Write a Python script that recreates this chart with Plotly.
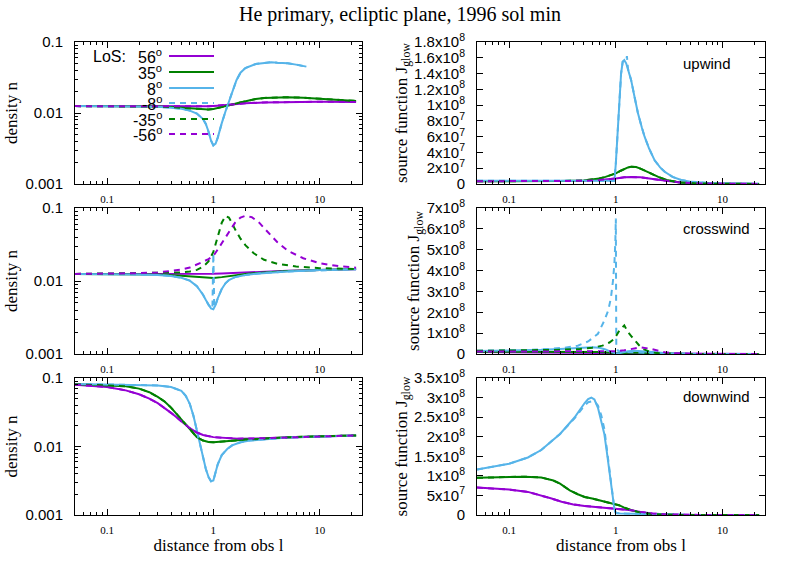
import math
import plotly.graph_objects as go

# colours of the line-of-sight curves
PURPLE = '#9400d3'
GREEN = '#008000'
BLUE = '#56b4e9'

# ---------------- upwind ----------------
up_n_x56 = [0.05, 0.1, 0.2, 0.3, 0.5, 0.7, 0.9, 1.1, 1.4, 2, 3, 5, 10, 22]
up_n_56 = [0.0125, 0.0125, 0.0125, 0.0125, 0.0124, 0.0123, 0.0124, 0.0127, 0.0132, 0.0137, 0.0141, 0.0143, 0.0144, 0.0143]
up_n_x35 = [0.05, 0.1, 0.2, 0.3, 0.4, 0.5, 0.6, 0.7, 0.8, 0.9, 1.0, 1.1, 1.25, 1.4, 1.7, 2, 2.5, 3, 4, 5, 7, 10, 15, 22]
up_n_35 = [0.0125, 0.0125, 0.0124, 0.0123, 0.0121, 0.0118, 0.0115, 0.0113, 0.0112, 0.0112, 0.0114, 0.0117, 0.0122,
           0.0128, 0.0138, 0.0147, 0.0157, 0.0163, 0.0167, 0.0167, 0.0164, 0.016, 0.0154, 0.0148]
up_n_x8 = [0.05, 0.1, 0.2, 0.3, 0.4, 0.5, 0.6, 0.7, 0.8, 0.85, 0.9, 0.95, 1.0, 1.05, 1.1, 1.15, 1.2, 1.3, 1.4, 1.5,
           1.65, 1.8, 2, 2.5, 3, 3.5, 4, 5, 6, 7.5]
up_n_8 = [0.0125, 0.0125, 0.0124, 0.0122, 0.0119, 0.0115, 0.0108, 0.0098, 0.0082, 0.0070, 0.0055, 0.0041, 0.0035,
          0.0037, 0.0045, 0.0058, 0.0072, 0.0105, 0.0145, 0.019, 0.029, 0.037, 0.043, 0.049, 0.051, 0.052, 0.051,
          0.050, 0.048, 0.045]

up_j_x56 = [0.05, 0.1, 0.2, 0.3, 0.5, 0.7, 0.9, 1.0, 1.2, 1.4, 1.7, 2, 2.5, 3, 4, 6, 10, 22]
up_j_56 = [3.5e6, 3.5e6, 3.5e6, 3.6e6, 4e6, 5e6, 6e6, 7e6, 8.5e6, 9e6, 8.5e6, 7.5e6, 5.5e6, 4e6, 2e6, 7e5, 2e5, 1e5]
up_j_x35 = [0.05, 0.1, 0.2, 0.3, 0.5, 0.6, 0.7, 0.8, 0.9, 1.0, 1.1, 1.2, 1.3, 1.4, 1.55, 1.7, 2, 2.5, 3, 4, 6, 10, 22]
up_j_35 = [3.5e6, 3.5e6, 3.6e6, 3.8e6, 4.5e6, 5.5e6, 7e6, 9e6, 1.1e7, 1.35e7, 1.65e7, 1.9e7, 2.1e7, 2.2e7, 2.15e7,
           1.95e7, 1.5e7, 9e6, 5e6, 2e6, 6e5, 2e5, 1e5]
up_j_x8 = [0.05, 0.1, 0.2, 0.3, 0.5, 0.7, 0.9, 0.97, 1.0, 1.04, 1.08, 1.12, 1.16, 1.2, 1.25, 1.3, 1.39, 1.5, 1.61,
           1.75, 1.86, 2.05, 2.31, 2.6, 2.87, 3.4, 4.1, 5, 5.9, 8, 12, 22]
up_j_8 = [4e6, 4e6, 4e6, 4e6, 4e6, 4e6, 4e6, 4e6, 2.6e7, 7e7, 1.1e8, 1.4e8, 1.55e8, 1.57e8, 1.53e8, 1.46e8, 1.32e8,
          1.1e8, 9e7, 7.2e7, 6e7, 4.5e7, 3e7, 2.1e7, 1.55e7, 9e6, 5e6, 3e6, 2e6, 1e6, 5e5, 2e5]
up_j_x8d = [0.05, 0.1, 0.2, 0.3, 0.5, 0.7, 0.9, 0.97, 1.0, 1.04, 1.08, 1.12, 1.16, 1.2, 1.25, 1.27, 1.3, 1.39, 1.5,
            1.61, 1.75, 1.86, 2.05, 2.31, 2.6, 2.87, 3.4, 4.1, 5, 5.9, 8, 12, 22]
up_j_8d = [4e6, 4e6, 4e6, 4e6, 4e6, 4e6, 4e6, 4e6, 2.6e7, 7e7, 1.1e8, 1.4e8, 1.55e8, 1.56e8, 1.55e8, 1.62e8, 1.46e8,
           1.32e8, 1.1e8, 9e7, 7.2e7, 6e7, 4.5e7, 3e7, 2.1e7, 1.55e7, 9e6, 5e6, 3e6, 2e6, 1e6, 5e5, 2e5]

# ---------------- crosswind ----------------
cr_n_x56 = [0.05, 0.1, 0.2, 0.3, 0.5, 0.7, 0.9, 1.0, 1.2, 1.5, 2, 3, 5, 10, 22]
cr_n_56 = [0.0125, 0.0125, 0.0125, 0.0125, 0.0124, 0.0124, 0.0125, 0.0126, 0.0127, 0.0129, 0.0131, 0.0134, 0.0138,
           0.0142, 0.0145]
cr_n_x35 = [0.05, 0.1, 0.2, 0.3, 0.5, 0.7, 0.9, 1.0, 1.2, 1.5, 2, 3, 5, 10, 22]
cr_n_35 = [0.0125, 0.0125, 0.0124, 0.0123, 0.0118, 0.0113, 0.0110, 0.0110, 0.0113, 0.0119, 0.0125, 0.0131, 0.0137,
           0.0142, 0.0146]
cr_n_x8 = [0.05, 0.1, 0.2, 0.3, 0.4, 0.5, 0.6, 0.7, 0.8, 0.85, 0.9, 0.95, 1.0, 1.05, 1.1, 1.2, 1.3, 1.4, 1.6, 2, 2.5,
           3, 5, 10, 22]
cr_n_8 = [0.0125, 0.0125, 0.0123, 0.0121, 0.0117, 0.0111, 0.0101, 0.0085, 0.0065, 0.0055, 0.0047, 0.0042, 0.0041,
          0.0047, 0.0058, 0.0078, 0.0093, 0.0103, 0.0113, 0.0121, 0.0126, 0.0129, 0.0135, 0.0141, 0.0145]
cr_n_x8d = [0.05, 0.1, 0.2, 0.3, 0.4, 0.5, 0.6, 0.7, 0.8, 0.85, 0.9, 0.95, 0.98, 1.0, 1.02, 1.05, 1.1, 1.2, 1.3, 1.4,
            1.6, 2, 2.5, 3, 5, 10, 22]
cr_n_8d = [0.0125, 0.0125, 0.0123, 0.0121, 0.0117, 0.0111, 0.0101, 0.0085, 0.0065, 0.0055, 0.0047, 0.0043, 0.0042,
           0.024, 0.0044, 0.0047, 0.0058, 0.0078, 0.0093, 0.0103, 0.0113, 0.0121, 0.0126, 0.0129, 0.0135, 0.0141,
           0.0145]
cr_n_x35d = [0.05, 0.1, 0.2, 0.3, 0.4, 0.5, 0.6, 0.7, 0.8, 0.9, 1.0, 1.1, 1.2, 1.3, 1.4, 1.5, 1.6, 1.8, 2.0, 2.4, 3,
             4, 6, 10, 22]
cr_n_35d = [0.0125, 0.0126, 0.0127, 0.0128, 0.0129, 0.0131, 0.0135, 0.0142, 0.0157, 0.0185, 0.025, 0.041, 0.063,
            0.078, 0.074, 0.062, 0.051, 0.038, 0.031, 0.024, 0.0195, 0.0172, 0.0158, 0.015, 0.0146]
cr_n_x56d = [0.05, 0.1, 0.2, 0.3, 0.4, 0.5, 0.6, 0.7, 0.8, 0.9, 1.0, 1.1, 1.25, 1.4, 1.6, 1.8, 2.0, 2.3, 2.7, 3.2, 4,
             5, 7, 10, 15, 22]
cr_n_56d = [0.0125, 0.0126, 0.0128, 0.0131, 0.0136, 0.0143, 0.0153, 0.0167, 0.0183, 0.02, 0.022, 0.027, 0.036, 0.048,
            0.063, 0.074, 0.078, 0.075, 0.063, 0.048, 0.034, 0.026, 0.0205, 0.0175, 0.016, 0.0152]

cr_j_x56 = [0.05, 0.1, 0.2, 0.3, 0.5, 0.7, 1.0, 1.5, 2, 3, 5, 10, 22]
cr_j_56 = [9e6, 8.5e6, 8e6, 7.5e6, 6.5e6, 5e6, 3e6, 3e6, 2.5e6, 1.5e6, 5e5, 1e5, 0]
cr_j_x35 = [0.05, 0.1, 0.2, 0.3, 0.5, 0.7, 0.9, 1.0, 1.2, 1.5, 2, 3, 5, 10, 22]
cr_j_35 = [1.1e7, 1.1e7, 1.1e7, 1.1e7, 1.05e7, 9e6, 6e6, 4e6, 5e6, 7e6, 5e6, 2e6, 5e5, 1e5, 0]
cr_j_x8 = [0.05, 0.1, 0.2, 0.3, 0.4, 0.5, 0.6, 0.7, 0.8, 0.9, 1.0, 1.1, 1.3, 1.5, 1.8, 2.2, 3, 4, 6, 10, 22]
cr_j_8 = [1.4e7, 1.6e7, 2e7, 2.4e7, 2.8e7, 3.1e7, 3.2e7, 3e7, 2.2e7, 1e7, 3e6, 5e6, 1.3e7, 1.6e7, 1.4e7, 9e6, 3e6,
          1e6, 3e5, 1e5, 0]
cr_j_x8d = [0.05, 0.1, 0.16, 0.25, 0.33, 0.44, 0.55, 0.68, 0.78, 0.85, 0.9, 0.94, 0.97, 0.99, 1.0, 1.01, 1.05, 1.2,
            1.5, 2, 3, 5, 10, 22]
cr_j_8d = [1.6e7, 1.8e7, 2e7, 2.5e7, 3e7, 4e7, 6e7, 9.7e7, 1.6e8, 2.1e8, 2.7e8, 3.5e8, 4.35e8, 5.4e8, 6.5e8, 3e7,
           1.5e7, 1e7, 8e6, 4e6, 1.5e6, 5e5, 1e5, 0]
cr_j_x35d = [0.05, 0.1, 0.2, 0.3, 0.46, 0.6, 0.75, 0.87, 0.97, 1.08, 1.2, 1.3, 1.4, 1.5, 1.65, 1.8, 2.15, 2.6, 3.2,
             4.5, 7, 12, 22]
cr_j_35d = [1.5e7, 1.6e7, 1.8e7, 2e7, 2.4e7, 3e7, 4e7, 5.5e7, 7.3e7, 1.13e8, 1.37e8, 1.05e8, 8.5e7, 6.5e7, 4.2e7,
            2.4e7, 8e6, 3e6, 1e6, 3e5, 1e5, 0, 0]
cr_j_x56d = [0.05, 0.1, 0.2, 0.3, 0.5, 0.7, 0.97, 1.2, 1.4, 1.73, 2.15, 2.5, 2.87, 3.5, 4.1, 6, 10, 22]
cr_j_56d = [1.2e7, 1.2e7, 1.15e7, 1.1e7, 1.1e7, 1.2e7, 1.3e7, 1.8e7, 2.4e7, 3.2e7, 2.4e7, 1.4e7, 8e6, 4e6, 2e6, 5e5,
            1e5, 0]

# ---------------- downwind ----------------
dn_n_x56 = [0.05, 0.1, 0.15, 0.2, 0.25, 0.3, 0.4, 0.5, 0.55, 0.6, 0.7, 0.8, 1.0, 1.3, 1.7, 2.5, 3.5, 5, 10, 22]
dn_n_56 = [0.08, 0.074, 0.066, 0.058, 0.05, 0.043, 0.031, 0.023, 0.0205, 0.0185, 0.016, 0.0147, 0.0137, 0.0132,
           0.013, 0.0131, 0.0133, 0.0136, 0.0141, 0.0145]
dn_n_x35 = [0.05, 0.1, 0.15, 0.2, 0.25, 0.3, 0.35, 0.4, 0.5, 0.55, 0.6, 0.7, 0.8, 0.9, 1.0, 1.2, 1.5, 2, 3, 5, 10, 22]
dn_n_35 = [0.081, 0.079, 0.076, 0.07, 0.062, 0.053, 0.045, 0.037, 0.025, 0.021, 0.0175, 0.0137, 0.0122, 0.0116,
           0.0115, 0.0117, 0.0121, 0.0126, 0.0131, 0.0136, 0.0141, 0.0145]
dn_n_x8 = [0.05, 0.1, 0.2, 0.3, 0.4, 0.45, 0.5, 0.55, 0.6, 0.65, 0.7, 0.75, 0.8, 0.85, 0.9, 0.95, 1.0, 1.05, 1.1,
           1.2, 1.35, 1.5, 1.8, 2.2, 3, 5, 10, 22]
dn_n_8 = [0.082, 0.081, 0.08, 0.078, 0.074, 0.07, 0.065, 0.055, 0.042, 0.028, 0.017, 0.0105, 0.0068, 0.0047, 0.0036,
          0.0031, 0.0032, 0.0042, 0.0055, 0.0075, 0.0092, 0.0104, 0.0115, 0.0122, 0.0128, 0.0135, 0.014, 0.0145]

dn_j_x56 = [0.05, 0.1, 0.15, 0.2, 0.25, 0.31, 0.4, 0.51, 0.7, 0.9, 1.1, 1.4, 1.7, 2.2, 3, 4, 6, 10, 22]
dn_j_56 = [7e7, 6.5e7, 5.9e7, 5e7, 4.2e7, 3.4e7, 2.7e7, 2.3e7, 2e7, 1.8e7, 1.6e7, 1.2e7, 8e6, 4e6, 1.5e6, 6e5, 2e5,
           0, 0]
dn_j_x35 = [0.05, 0.1, 0.14, 0.2, 0.26, 0.3, 0.37, 0.44, 0.51, 0.6, 0.78, 0.9, 1.07, 1.2, 1.4, 1.6, 1.9, 2.3, 3, 4, 6,
            10, 22]
dn_j_35 = [9.5e7, 9.7e7, 9.8e7, 9.6e7, 8.8e7, 8e7, 6.3e7, 5.3e7, 4.6e7, 4.2e7, 3.5e7, 3e7, 2.5e7, 1.9e7, 1.2e7, 8e6,
           4e6, 2e6, 8e5, 3e5, 1e5, 0, 0]
dn_j_x8 = [0.05, 0.1, 0.15, 0.2, 0.3, 0.41, 0.51, 0.55, 0.59, 0.63, 0.68, 0.73, 0.78, 0.82, 0.86, 0.9, 0.94, 0.97,
           1.0, 1.1, 1.5, 2, 3, 5, 10, 22]
dn_j_8 = [1.16e8, 1.31e8, 1.47e8, 1.66e8, 2.07e8, 2.49e8, 2.86e8, 2.96e8, 3.0e8, 2.95e8, 2.74e8, 2.42e8, 2.07e8,
          1.65e8, 1.24e8, 8.5e7, 4.1e7, 1.5e7, 5e6, 4e6, 3e6, 2e6, 1e6, 3e5, 1e5, 0]
dn_j_8d = [1.16e8, 1.31e8, 1.47e8, 1.66e8, 2.07e8, 2.47e8, 2.8e8, 2.88e8, 2.9e8, 2.9e8, 2.8e8, 2.55e8, 2.2e8, 1.75e8,
           1.3e8, 8.8e7, 4.2e7, 1.5e7, 5e6, 4e6, 3e6, 2e6, 1e6, 3e5, 1e5, 0]

# tick labels
x_ticks = [0.1, 1, 10]
x_ticktext = ['0.1', '1', '10']
n_ticks = [0.001, 0.01, 0.1]
n_ticktext = ['0.001', '0.01', '0.1']
up_j_ticks = [0, 2e7, 4e7, 6e7, 8e7, 1e8, 1.2e8, 1.4e8, 1.6e8, 1.8e8]
up_j_ticktext = ['0', '2x10<sup>7</sup>', '4x10<sup>7</sup>', '6x10<sup>7</sup>', '8x10<sup>7</sup>',
                 '1x10<sup>8</sup>', '1.2x10<sup>8</sup>', '1.4x10<sup>8</sup>', '1.6x10<sup>8</sup>',
                 '1.8x10<sup>8</sup>']
cr_j_ticks = [0, 1e8, 2e8, 3e8, 4e8, 5e8, 6e8, 7e8]
cr_j_ticktext = ['0', '1x10<sup>8</sup>', '2x10<sup>8</sup>', '3x10<sup>8</sup>', '4x10<sup>8</sup>',
                 '5x10<sup>8</sup>', '6x10<sup>8</sup>', '7x10<sup>8</sup>']
dn_j_ticks = [0, 5e7, 1e8, 1.5e8, 2e8, 2.5e8, 3e8, 3.5e8]
dn_j_ticktext = ['0', '5x10<sup>7</sup>', '1x10<sup>8</sup>', '1.5x10<sup>8</sup>', '2x10<sup>8</sup>',
                 '2.5x10<sup>8</sup>', '3x10<sup>8</sup>', '3.5x10<sup>8</sup>']

legend_labels = ['56<sup>o</sup>', '35<sup>o</sup>', '8<sup>o</sup>', '-8<sup>o</sup>', '-35<sup>o</sup>',
                 '-56<sup>o</sup>']

W, H = 806, 564
SERIF = 'Liberation Serif'
SANS = 'Liberation Sans'

x_minor = [m * 10 ** e for e in (-2, -1, 0, 1) for m in range(2, 10) if 0.05 <= m * 10 ** e <= 25]
n_minor = [m * 10 ** e for e in (-3, -2) for m in range(2, 10)]

fig = go.Figure()

# (x axis, y axis, curves in drawing order: solid 56, 35, 8 then dashed -8, -35, -56)
panels = [
    ('x', 'y', [(up_n_x56, up_n_56), (up_n_x35, up_n_35), (up_n_x8, up_n_8),
                (up_n_x8, up_n_8), (up_n_x35, up_n_35), (up_n_x56, up_n_56)]),
    ('x2', 'y2', [(up_j_x56, up_j_56), (up_j_x35, up_j_35), (up_j_x8, up_j_8),
                  (up_j_x8d, up_j_8d), (up_j_x35, up_j_35), (up_j_x56, up_j_56)]),
    ('x3', 'y3', [(cr_n_x56, cr_n_56), (cr_n_x35, cr_n_35), (cr_n_x8, cr_n_8),
                  (cr_n_x8d, cr_n_8d), (cr_n_x35d, cr_n_35d), (cr_n_x56d, cr_n_56d)]),
    ('x4', 'y4', [(cr_j_x56, cr_j_56), (cr_j_x35, cr_j_35), (cr_j_x8, cr_j_8),
                  (cr_j_x8d, cr_j_8d), (cr_j_x35d, cr_j_35d), (cr_j_x56d, cr_j_56d)]),
    ('x5', 'y5', [(dn_n_x56, dn_n_56), (dn_n_x35, dn_n_35), (dn_n_x8, dn_n_8),
                  (dn_n_x8, dn_n_8), (dn_n_x35, dn_n_35), (dn_n_x56, dn_n_56)]),
    ('x6', 'y6', [(dn_j_x56, dn_j_56), (dn_j_x35, dn_j_35), (dn_j_x8, dn_j_8),
                  (dn_j_x8, dn_j_8d), (dn_j_x35, dn_j_35), (dn_j_x56, dn_j_56)]),
]
styles = [(PURPLE, 'solid'), (GREEN, 'solid'), (BLUE, 'solid'),
          (BLUE, '6px,5px'), (GREEN, '6px,5px'), (PURPLE, '6px,5px')]

for xa, ya, curves in panels:
    for (xs, ys), (col, dash) in zip(curves, styles):
        fig.add_trace(go.Scatter(x=xs, y=ys, mode='lines', xaxis=xa, yaxis=ya, showlegend=False,
                                 line=dict(color=col, width=2, dash=dash), hoverinfo='skip'))

# panel frames in pixels
cols = [(75, 362), (477, 765)]
rows = [(42, 184), (208, 354), (378, 515)]


def xdom(c):
    return [cols[c][0] / W, cols[c][1] / W]


def ydom(r):
    return [1 - rows[r][1] / H, 1 - rows[r][0] / H]


frame = dict(showline=True, linecolor='black', linewidth=1, mirror='allticks', ticks='inside',
             tickcolor='black', showgrid=False, zeroline=False, automargin=False)

layout = {}
for i in range(6):
    r, c = divmod(i, 2)
    sfx = '' if i == 0 else str(i + 1)
    xa = dict(frame, type='log', domain=xdom(c), anchor='y' + sfx,
              range=[math.log10(0.05), math.log10(25)], tickvals=x_ticks, ticktext=x_ticktext,
              ticklen=6, ticklabelstandoff=5,
              tickfont=dict(family=SERIF, size=11, color='black'),
              minor=dict(ticks='inside', ticklen=3, tickvals=x_minor, tickcolor='black'))
    if r == 2:
        xa['title'] = dict(text='distance from obs l', font=dict(family=SERIF, size=17, color='black'),
                           standoff=2)
    if c == 0:
        ya = dict(frame, type='log', domain=ydom(r), anchor='x' + sfx, range=[-3, -1],
                  tickvals=n_ticks, ticktext=n_ticktext, ticklen=6, ticklabelstandoff=8,
                  tickfont=dict(family=SANS, size=15, color='black'),
                  minor=dict(ticks='inside', ticklen=3, tickvals=n_minor, tickcolor='black'),
                  title=dict(text='density n', font=dict(family=SERIF, size=17, color='black'),
                             standoff=3))
    else:
        tv, tt, top = [(up_j_ticks, up_j_ticktext, 1.8e8), (cr_j_ticks, cr_j_ticktext, 7e8),
                       (dn_j_ticks, dn_j_ticktext, 3.5e8)][r]
        ya = dict(frame, domain=ydom(r), anchor='x' + sfx, range=[0, top],
                  tickvals=tv, ticktext=tt, ticklen=6, ticklabelstandoff=8,
                  tickfont=dict(family=SANS, size=15, color='black'),
                  title=dict(text='source function J<sub>glow</sub>',
                             font=dict(family=SERIF, size=17, color='black'), standoff=2))
    layout['xaxis' + sfx] = xa
    layout['yaxis' + sfx] = ya

annotations = [
    dict(text='He primary, ecliptic plane, 1996 sol min', x=400 / W, y=1 - 15 / H, xref='paper', yref='paper',
         showarrow=False, xanchor='center', yanchor='middle', font=dict(family=SERIF, size=20, color='black')),
]
for name, ypx in [('upwind', 64), ('crosswind', 228), ('downwind', 396)]:
    annotations.append(dict(text=name, x=681 / W, y=1 - ypx / H, xref='paper', yref='paper', showarrow=False,
                            xanchor='left', yanchor='middle', font=dict(family=SANS, size=15, color='black')))

# hand-made key: text on the left, line sample on the right
shapes = []
key_rows = [56, 72, 88, 103, 119, 134]
annotations.append(dict(text='LoS:', x=128 / W, y=1 - key_rows[0] / H, xref='paper', yref='paper',
                        showarrow=False, xanchor='right', yanchor='middle',
                        font=dict(family=SANS, size=16, color='black')))
for lab, ypx, (col, dash) in zip(legend_labels, key_rows, styles):
    annotations.append(dict(text=lab, x=164 / W, y=1 - ypx / H, xref='paper', yref='paper', showarrow=False,
                            xanchor='right', yanchor='middle', font=dict(family=SANS, size=16, color='black')))
    shapes.append(dict(type='line', xref='paper', yref='paper', x0=169 / W, x1=214 / W,
                       y0=1 - ypx / H, y1=1 - ypx / H, line=dict(color=col, width=2, dash=dash)))

fig.update_layout(width=W, height=H, margin=dict(l=0, r=0, t=0, b=0, pad=0, autoexpand=False),
                  plot_bgcolor='white', paper_bgcolor='white', annotations=annotations, shapes=shapes, **layout)

# the page body has a default margin; drop it so the figure sits at the window corner
fig.write_html("out.html", config={'displayModeBar': False},
               post_script="document.body.style.margin = '0';")
